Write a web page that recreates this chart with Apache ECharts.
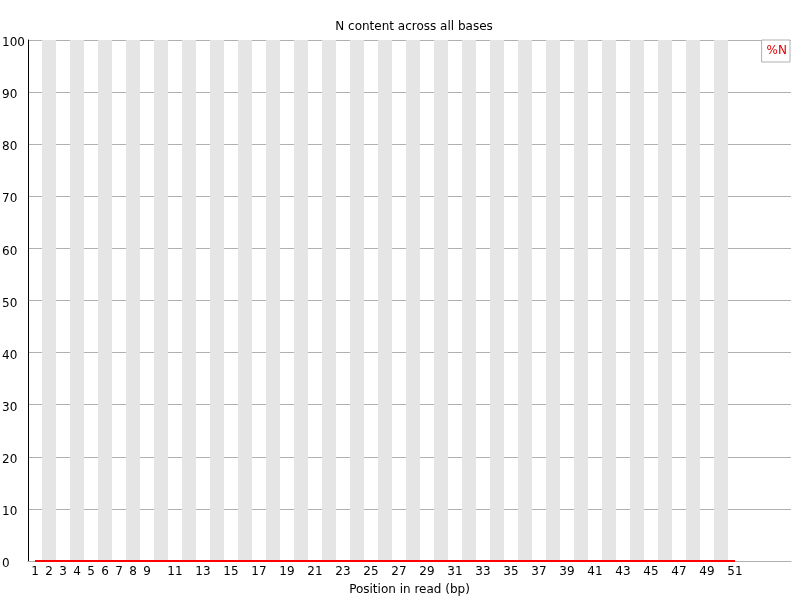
<!DOCTYPE html>
<html><head><meta charset="utf-8">
<script src="https://cdn.jsdelivr.net/npm/echarts@6/dist/echarts.min.js"></script>
<style>html,body{margin:0;padding:0;background:#fff}#c{width:800px;height:600px}</style>
</head><body><div id="c"></div>
<script>
const positions = Array.from({length:51},(_, i)=>i+1);
const nPercent = [0,0,0,0,0,0,0,0,0,0,0,0,0,0,0,0,0,0,0,0,0,0,0,0,0,0,0,0,0,0,0,0,0,0,0,0,0,0,0,0,0,0,0,0,0,0,0,0,0,0,0];
const xTickLabels = [1,2,3,4,5,6,7,8,9,11,13,15,17,19,21,23,25,27,29,31,33,35,37,39,41,43,45,47,49,51];
const stripePositions = [2,4,6,8,10,12,14,16,18,20,22,24,26,28,30,32,34,36,38,40,42,44,46,48,50];

const chart = echarts.init(document.getElementById('c'));
const font = 'DejaVu Sans';
chart.setOption({
  animation:false,
  textStyle:{fontFamily:font},
  title:{text:'N content across all bases', left:409, top:16, textAlign:'center',
    textStyle:{fontSize:12, fontWeight:'normal', color:'#000', fontFamily:font}},
  legend:{right:10, top:40, orient:'vertical', itemWidth:0, itemHeight:0, icon:'none',
    borderColor:'#b0b0b0', borderWidth:1, backgroundColor:'#fff', padding:[5,3,5,0],
    textStyle:{color:'#e00000', fontSize:12, fontFamily:font}, data:['%N']},
  grid:{left:28, right:9, top:40, bottom:39, containLabel:false, outerBoundsMode:'none'},
  xAxis:{type:'value', min:0.5, max:55, name:'Position in read (bp)', nameLocation:'middle', nameGap:23,
    nameTextStyle:{fontSize:12, color:'#000', fontFamily:font},
    axisLine:{show:true, lineStyle:{color:'#b0b0b0', width:1}},
    axisTick:{show:false},
    splitLine:{show:false},
    axisLabel:{customValues:xTickLabels, color:'#000', fontSize:12, margin:5, fontFamily:font}},
  yAxis:{type:'value', min:0, max:100, interval:10,
    axisLine:{show:true, lineStyle:{color:'#000', width:1}},
    axisTick:{show:false},
    splitLine:{show:true, lineStyle:{color:'#b0b0b0', width:1}},
    axisLabel:{align:'left', verticalAlign:'top', lineHeight:6, margin:26, color:'#000', fontSize:12, fontFamily:font}},
  series:[{
    name:'%N', type:'line', data:positions.map((p,i)=>[p,nPercent[i]]),
    symbol:'none', lineStyle:{color:'#ff0000', width:2}, itemStyle:{color:'#ff0000'}, z:5,
    markArea:{silent:true, itemStyle:{color:'#e5e5e5'},
      data:stripePositions.map(p=>[{xAxis:p-0.5, yAxis:0},{xAxis:p+0.5, yAxis:100}])}
  }]
});
</script></body></html>
